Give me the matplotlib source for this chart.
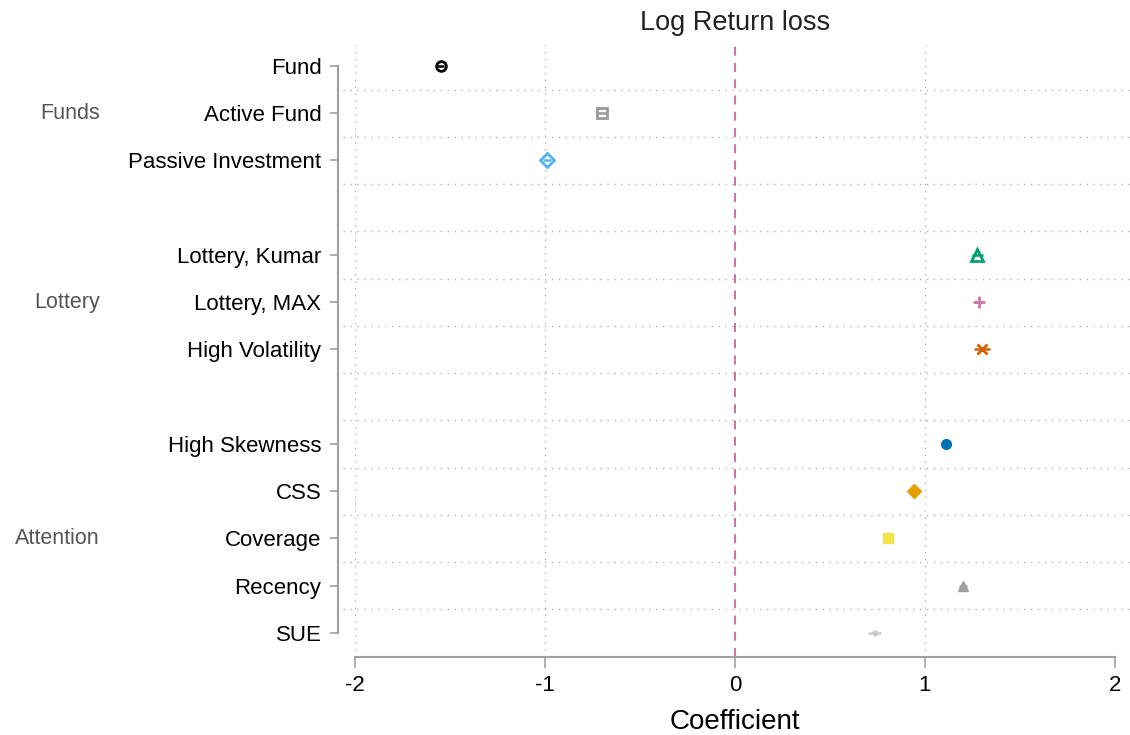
import matplotlib
matplotlib.use("Agg")
import matplotlib.pyplot as plt

labels = ["Fund", "Active Fund", "Passive Investment",
          "Lottery, Kumar", "Lottery, MAX", "High Volatility",
          "High Skewness", "CSS", "Coverage", "Recency", "SUE"]
positions = [1, 2, 3, 5, 6, 7, 9, 10, 11, 12, 13]
coefs = [-1.55, -0.70, -0.99, 1.275, 1.285, 1.30, 1.11, 0.94, 0.805, 1.20, 0.735]
ci_half = [0.02, 0.02, 0.02, 0.03, 0.02, 0.04, 0.02, 0.02, 0.02, 0.02, 0.035]
groups = ["Funds", "Lottery", "Attention"]
group_pos = [2, 6, 11]
xticks = [-2, -1, 0, 1, 2]

colors = ["#000000", "#999999", "#56B4E9", "#009E73", "#CC79A7", "#D55E00",
          "#0072B2", "#E69F00", "#F0E442", "#A0A0A0", "#CCCCCC"]
markers = ["o", "s", "D", "^", "+", "x", "o", "D", "s", "^", "o"]
filled = [False, False, False, False, True, True, True, True, True, True, True]
msizes = [7, 7, 7.5, 8, 8, 6.5, 7, 7, 7, 7.5, 3.5]

plt.rcParams['font.family'] = ['Liberation Sans', 'DejaVu Sans']

W, H = 1130, 735
fig = plt.figure(figsize=(W / 100, H / 100), dpi=100)
ax = fig.add_axes([355 / W, 1 - 657 / H, 760 / W, (657 - 45) / H])

ax.set_xlim(-2, 2)
ax.set_ylim(13.51, 0.556)

grid_c = "#b0b0b0"
for yv in [p + 0.5 for p in range(1, 13)]:
    ax.axhline(yv, xmin=(343 - 355) / 760, xmax=(1130 - 355) / 760,
               color=grid_c, lw=1.0, ls=(0, (1, 4)), clip_on=False, zorder=0)
for xv in [-2, -1, 1]:
    ax.axvline(xv, color=grid_c, lw=1.0, ls=(0, (1, 4)), zorder=0)
ax.axvline(0, color="#C8669A", lw=1.3, ls=(0, (5, 4)), zorder=1)

for i in range(len(labels)):
    y = positions[i]
    c = colors[i]
    if filled[i]:
        ax.plot(coefs[i], y, marker=markers[i], ms=msizes[i], color=c,
                mec=c, mew=2.0 if markers[i] in "+x" else 1.0, ls='none', zorder=3)
    else:
        ax.plot(coefs[i], y, marker=markers[i], ms=msizes[i], mfc='white',
                mec=c, mew=2.0, ls='none', zorder=3)
    ax.plot([coefs[i] - ci_half[i], coefs[i] + ci_half[i]], [y, y],
            color=c, lw=1.8, solid_capstyle='butt', zorder=4)

for s in ["top", "right"]:
    ax.spines[s].set_visible(False)
spine_c = "#a0a0a0"
ax.spines["left"].set_position(("outward", 12.2))
ax.spines["left"].set_bounds(1, 13)
ax.spines["left"].set_color(spine_c)
ax.spines["left"].set_linewidth(1.5)
ax.spines["bottom"].set_color(spine_c)
ax.spines["bottom"].set_linewidth(1.5)

ax.set_yticks(positions)
ax.set_yticklabels(labels, fontsize=16)
ax.set_xticks(xticks)
ax.set_xticklabels([str(v) for v in xticks], fontsize=16)
ax.tick_params(axis='y', length=6, width=1.2, color=spine_c, pad=6)
ax.tick_params(axis='x', length=8, width=1.2, color=spine_c, pad=5)

ax.set_xlabel("Coefficient", fontsize=20, labelpad=9)
ax.set_title("Log Return loss", fontsize=19.5, pad=11, color="#222222")

for g, gp in zip(groups, group_pos):
    yfig = ax.transData.transform((0, gp))[1] / H
    fig.text(100 / W, yfig, g, ha='right', va='center', fontsize=15.5, color="#555555")

fig.savefig("out.png", dpi=100)
